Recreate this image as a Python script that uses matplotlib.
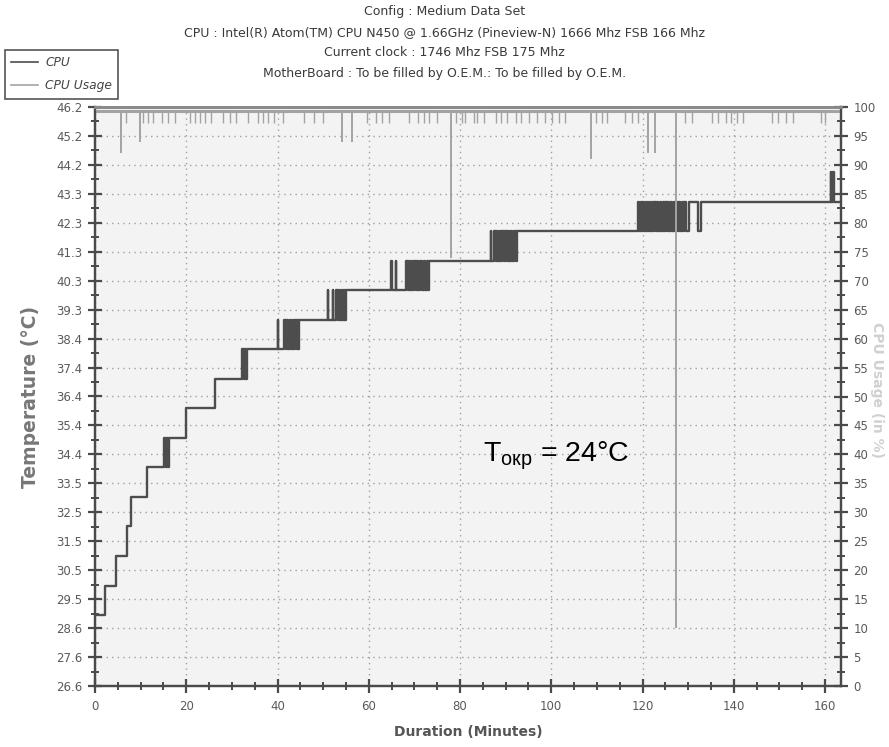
import numpy as np
import matplotlib
matplotlib.use("Agg")
import matplotlib.pyplot as plt
from matplotlib.ticker import MultipleLocator, FixedLocator
from matplotlib.lines import Line2D

# CPU temperature, step change points (minutes, deg C)
cpu_time = [0, 2.2, 4.6, 7.1, 7.8, 11.3,
            15.2, 15.5, 15.8, 16.0, 16.3,
            20.0, 26.4,
            32.3, 32.6, 32.9, 33.1, 33.3,
            40.0, 40.2, 41.5, 41.8, 42.1, 42.4, 42.7, 43.0, 43.3, 43.6, 43.9, 44.2, 44.5, 44.6, 44.8,
            51.0, 51.1, 52.1, 52.2, 52.9, 53.2, 53.5, 53.8, 54.1, 54.4, 54.7, 54.9, 55.1,
            64.9, 65.0, 65.9, 66.0, 68.2, 68.5, 68.8, 69.1, 69.4, 69.7, 70.0,
            70.3, 70.6, 70.9, 71.2, 71.6, 72.0, 72.4, 72.8, 73.0, 73.2,
            86.8, 86.9, 87.5, 87.8, 88.1, 88.4, 88.7, 89.0, 89.3, 89.6,
            89.9, 90.2, 90.5, 90.8, 91.1, 91.5, 91.9, 92.2, 92.5,
            119.1, 119.3, 119.6, 119.8, 120.2, 120.4, 120.8, 121.0, 121.4, 121.6,
            122.0, 122.3, 122.6, 122.9, 123.2, 123.5, 123.8, 124.1, 124.4, 124.7,
            125.0, 125.3, 125.6, 125.9, 126.2, 126.5, 126.8, 127.1, 127.4, 127.7,
            128.0, 128.3, 128.6, 128.9, 129.2, 129.5, 130.1,
            132.2, 132.9,
            161.2, 161.4, 161.8, 162.0, 163.5]
cpu_temp = [29, 30, 31, 32, 33, 34,
            35, 34, 35, 34, 35,
            36, 37,
            38, 37, 38, 37, 38,
            39, 38, 39, 38, 39, 38, 39, 38, 39, 38, 39, 38, 39, 38, 39,
            40, 39, 40, 39, 40, 39, 40, 39, 40, 39, 40, 39, 40,
            41, 40, 41, 40, 41, 40, 41, 40, 41, 40, 41,
            40, 41, 40, 41, 40, 41, 40, 41, 40, 41,
            42, 41, 42, 41, 42, 41, 42, 41, 42, 41,
            42, 41, 42, 41, 42, 41, 42, 41, 42,
            43, 42, 43, 42, 43, 42, 43, 42, 43, 42,
            43, 42, 43, 42, 43, 42, 43, 42, 43, 42,
            43, 42, 43, 42, 43, 42, 43, 42, 43, 42,
            43, 42, 43, 42, 43, 42, 43,
            42, 43,
            44, 43, 44, 43, 43]

# CPU usage (%): near 100 with short dips
usage_base = 99.3
usage_dip_time = [5.8, 9.8, 54.2, 56.4, 78.0, 108.6, 121.3, 122.8, 127.4]
usage_dip_value = [92, 94, 94, 94, 74, 91, 92, 92, 10]
usage_small_time = [6.9, 10.6, 11.7, 12.8, 14.6, 16.0, 17.5, 20.8, 21.9, 23.0, 24.0, 25.5,
                    28.0, 29.5, 31.0, 33.5, 35.7, 36.8, 37.9, 39.3, 41.2, 45.9, 48.1, 49.9,
                    59.7, 61.6, 63.0, 64.5, 68.9, 70.7, 72.1, 73.2, 75.0, 79.1, 80.5, 81.2,
                    83.1, 83.8, 85.2, 87.8, 88.9, 90.3, 92.2, 93.3, 95.1, 96.9, 98.7, 100.2,
                    101.6, 103.1, 109.7, 111.1, 112.2, 116.2, 117.7, 119.1, 129.3, 130.8,
                    135.2, 136.6, 138.4, 139.5, 140.6, 142.1, 148.3, 149.7, 151.5, 153.0,
                    159.2, 159.9]
usage_small_value = 97.2

temp_tick_labels = ["26.6", "27.6", "28.6", "29.5", "30.5", "31.5", "32.5", "33.5",
                    "34.4", "35.4", "36.4", "37.4", "38.4", "39.3", "40.3", "41.3",
                    "42.3", "43.3", "44.2", "45.2", "46.2"]
temp_min, temp_max = 26.6, 46.2

title_lines = ["Config : Medium Data Set",
               "CPU : Intel(R) Atom(TM) CPU N450 @ 1.66GHz (Pineview-N) 1666 Mhz FSB 166 Mhz",
               "Current clock : 1746 Mhz FSB 175 Mhz",
               "MotherBoard : To be filled by O.E.M.: To be filled by O.E.M."]

plt.rcParams["font.family"] = ["DejaVu Sans"]

fig = plt.figure(figsize=(8.89, 7.47), dpi=100, facecolor="white")
ax = fig.add_axes([95 / 889, 1 - 686 / 747, 746 / 889, 579 / 747])
ax.set_facecolor("#f3f3f3")
ax2 = ax.twinx()

tick_col = "#4a4a4a"
grid_kw = dict(color="#a0a0a0", linestyle=(0, (1, 3)), linewidth=1.0)

# temperature axis
ax.set_xlim(0, cpu_time[-1])
ax.set_ylim(temp_min, temp_max)
temp_ticks = np.linspace(temp_min, temp_max, len(temp_tick_labels))
ax.yaxis.set_major_locator(FixedLocator(temp_ticks))
ax.set_yticklabels(temp_tick_labels)
ax.yaxis.set_minor_locator(FixedLocator((temp_ticks[:-1] + temp_ticks[1:]) / 2))
ax.xaxis.set_major_locator(MultipleLocator(20))
ax.xaxis.set_minor_locator(MultipleLocator(5))
ax.grid(True, which="major", **grid_kw)
ax.set_axisbelow(True)

ax.step(cpu_time, cpu_temp, where="post", color="#4d4d4d", linewidth=1.7, zorder=3)

# usage axis
ax2.set_ylim(0, 100)
ax2.yaxis.set_major_locator(MultipleLocator(5))
ax2.yaxis.set_minor_locator(MultipleLocator(2.5))
usage_col = "#a3a3a3"
ax2.plot([cpu_time[0], cpu_time[-1]], [usage_base, usage_base], color=usage_col,
         linewidth=2.2, solid_capstyle="butt", clip_on=False)
ax2.vlines(usage_small_time, usage_small_value, usage_base, color=usage_col, linewidth=1.0)
ax2.vlines(usage_dip_time, usage_dip_value, usage_base, color=usage_col, linewidth=1.4)

for a in (ax, ax2):
    a.tick_params(which="major", direction="inout", length=10, width=1.6, color=tick_col,
                  labelcolor="#5a5a5a", labelsize=8.5)
    a.tick_params(which="minor", direction="inout", length=6, width=1.4, color=tick_col)
    for s in ("left", "right", "bottom"):
        a.spines[s].set_color(tick_col)
        a.spines[s].set_linewidth(1.6)
    a.spines["top"].set_color("#8a8a8a")
    a.spines["top"].set_linewidth(2.0)
ax.tick_params(axis="x", pad=5)
ax.tick_params(axis="y", pad=4)
ax2.tick_params(axis="y", pad=4)

ax.set_xlabel("Duration (Minutes)", fontsize=10, fontweight="bold", color="#555555",
              labelpad=9)
ax.set_ylabel("Temperature (°C)", fontsize=13.5, fontweight="bold", color="#777777",
              labelpad=12)
fig.text(877 / 889, 1 - 390 / 747, "CPU Usage (in %)", rotation=270, ha="center",
         va="center", fontsize=10, fontweight="bold", color="#d0d0d0")

for i, line in enumerate(title_lines):
    fig.text(0.5, 1 - (12 + 20.5 * i) / 747, line, ha="center", va="center",
             fontsize=9, color="#3a3a3a")

handles = [Line2D([], [], color="#4d4d4d", linewidth=1.2),
           Line2D([], [], color="#a3a3a3", linewidth=1.2)]
leg = fig.legend(handles, ["CPU", "CPU Usage"], loc="upper left",
                 bbox_to_anchor=(5 / 889, 1 - 50 / 747), fancybox=False,
                 framealpha=1, edgecolor="#555555", borderaxespad=0,
                 handlelength=2.2, handletextpad=0.6, borderpad=0.5, labelspacing=0.85,
                 prop=dict(style="italic", size=8.8))
for t in leg.get_texts():
    t.set_color("#444444")
leg.get_frame().set_linewidth(1.2)
leg.set_zorder(10)

fig.text(483 / 889, 1 - 456 / 747, "T$_{\\mathregular{окр}}$ = 24°C", ha="left",
         va="center", fontsize=20.5, family=["Liberation Sans", "DejaVu Sans"], color="black")

fig.savefig("out.png", dpi=100, facecolor="white")
